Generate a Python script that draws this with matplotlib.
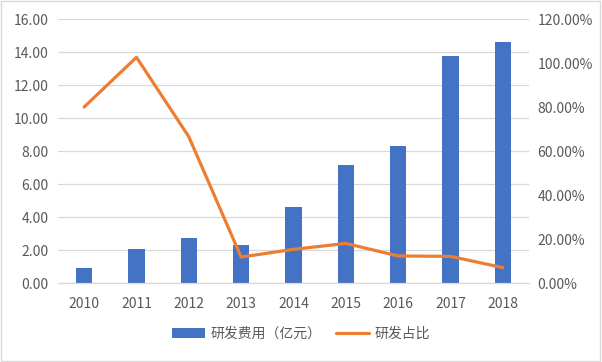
import numpy as np
import matplotlib.pyplot as plt
import matplotlib
from matplotlib.ticker import FuncFormatter
from matplotlib.patches import Rectangle

plt.rcParams['font.family'] = ['Noto Sans CJK SC', 'DejaVu Sans']

years = ['2010', '2011', '2012', '2013', '2014', '2015', '2016', '2017', '2018']
rd_cost = [0.91, 2.06, 2.73, 2.30, 4.60, 7.15, 8.32, 13.76, 14.60]  # 研发费用（亿元）
rd_ratio = [0.80, 1.026, 0.665, 0.118, 0.153, 0.18, 0.123, 0.121, 0.07]  # 研发占比

blue = '#4472C4'
orange = '#ED7D31'
grey_txt = '#595959'
grid_c = '#D9D9D9'

fig = plt.figure(figsize=(6.02, 3.62), dpi=100, facecolor='white')
ax = fig.add_axes([0.0963, 0.2182, 0.7824, 0.7293])
x = np.arange(len(years))

ax.bar(x, rd_cost, width=0.31, color=blue, zorder=2, label='研发费用（亿元）')
ax.set_ylim(0, 16)
ax.set_yticks(np.arange(0, 17, 2))
ax.yaxis.set_major_formatter(FuncFormatter(lambda v, p: '%.2f' % v))
ax.set_xlim(-0.5, len(years) - 0.5)
ax.set_xticks(x)
ax.set_xticklabels(years)
ax.grid(axis='y', color=grid_c, linewidth=0.9, zorder=0)
for s in ['top', 'left', 'right']:
    ax.spines[s].set_visible(False)
ax.spines['bottom'].set_color(grid_c)
ax.spines['bottom'].set_linewidth(0.9)
ax.tick_params(axis='both', length=0, labelsize=10, colors=grey_txt)
ax.tick_params(axis='x', pad=10)
ax.tick_params(axis='y', pad=7)

ax2 = ax.twinx()
ax2.plot(x, rd_ratio, color=orange, linewidth=2.3, solid_capstyle='round', zorder=3, label='研发占比')
ax2.set_ylim(0, 1.2)
ax2.set_yticks(np.arange(0, 1.21, 0.2))
ax2.yaxis.set_major_formatter(FuncFormatter(lambda v, p: '%.2f%%' % (v * 100)))
for s in ['top', 'left', 'right', 'bottom']:
    ax2.spines[s].set_visible(False)
ax2.tick_params(axis='y', length=0, labelsize=10, colors=grey_txt, pad=6)

h1, l1 = ax.get_legend_handles_labels()
h2, l2 = ax2.get_legend_handles_labels()
leg = fig.legend(h1 + h2, l1 + l2, loc='center', bbox_to_anchor=(0.5, 1 - 334 / 362), ncol=2,
                 frameon=False, fontsize=10, handlelength=2.4, columnspacing=1.0, handletextpad=0.4)
for t in leg.get_texts():
    t.set_color(grey_txt)

fig.patches.append(Rectangle((0.002, 0.003), 0.995, 0.993, transform=fig.transFigure,
                             fill=False, edgecolor=grid_c, linewidth=1))

plt.savefig('out.png', dpi=100)
